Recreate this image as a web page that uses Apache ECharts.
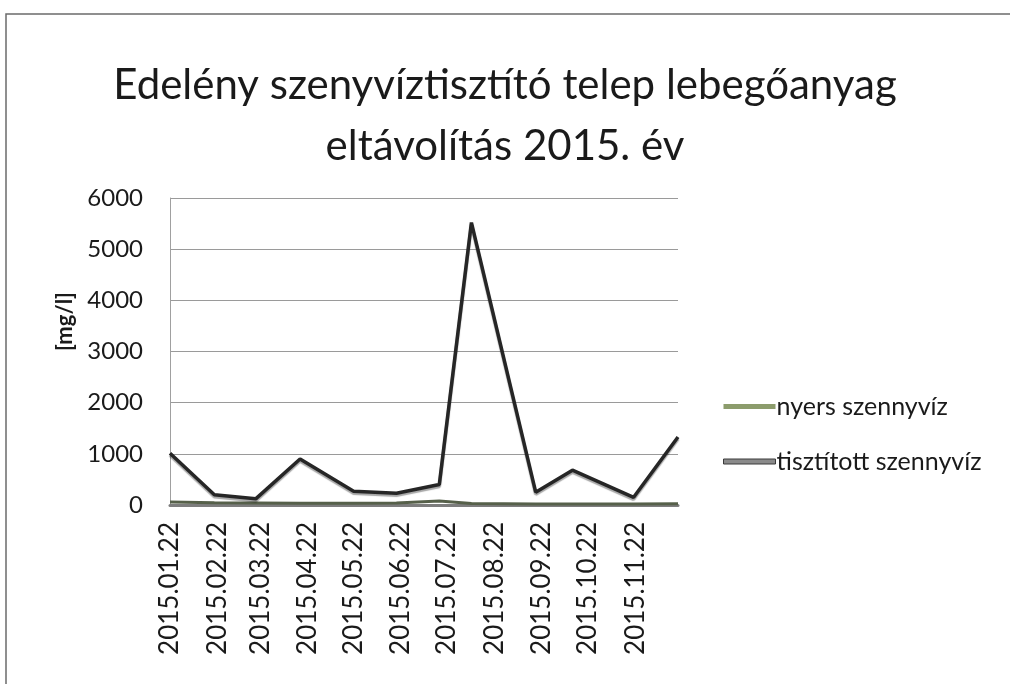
<!DOCTYPE html>
<html>
<head>
<meta charset="utf-8">
<script src="https://cdn.jsdelivr.net/npm/echarts@6/dist/echarts.min.js"></script>
<style>
  html, body { margin: 0; padding: 0; background: #fff; }
  #chart { width: 1010px; height: 684px; }
</style>
</head>
<body>
<div id="chart"></div>
<script>
  // sampling dates
  var sampleDates = ['2015-01-22', '2015-02-20', '2015-03-19', '2015-04-17', '2015-05-22', '2015-06-19',
    '2015-07-17', '2015-08-07', '2015-09-18', '2015-10-12', '2015-11-21', '2015-12-20']
  var nyers = [60, 45, 40, 35, 35, 40, 80, 30, 20, 20, 20, 25]
  var tisztitott = [1010, 200, 120, 900, 270, 230, 400, 5520, 250, 680, 150, 1330]
  var tickLabels = ['2015.01.22', '2015.02.22', '2015.03.22', '2015.04.22', '2015.05.22', '2015.06.22',
    '2015.07.22', '2015.08.22', '2015.09.22', '2015.10.22', '2015.11.22']
  var yTicks = [0, 1000, 2000, 3000, 4000, 5000, 6000]

  function toTime(s) {
    var p = s.split(/[-.]/)
    return new Date(+p[0], +p[1] - 1, +p[2]).getTime()
  }
  function pad(n) { return n < 10 ? '0' + n : '' + n }

  var font = 'Lato, "Open Sans", sans-serif'
  var tickTimes = tickLabels.map(toTime)

  var myChart = echarts.init(document.getElementById('chart'), null, {renderer: 'canvas'})
  myChart.setOption({
    animation: false,
    backgroundColor: '#fff',
    textStyle: {fontFamily: font},
    graphic: [{
      type: 'rect',
      shape: {x: 6, y: 14, width: 1200, height: 900},
      style: {fill: 'none', stroke: '#6b6b6b', lineWidth: 1.5},
      silent: true
    }],
    title: {
      text: 'Edelény szenyvíztisztító telep lebegőanyag\neltávolítás 2015. év',
      left: 'center',
      top: 50,
      padding: [5, 5, 5, 22],
      textStyle: {
        fontFamily: font,
        fontSize: 42,
        fontWeight: 'normal',
        lineHeight: 61,
        color: '#1a1a1a'
      }
    },
    legend: {
      orient: 'vertical',
      left: 718,
      top: 389,
      itemWidth: 52,
      itemHeight: 5,
      itemGap: 30,
      icon: 'rect',
      textStyle: {fontFamily: font, fontSize: 25, color: '#1a1a1a', padding: [0, 0, 0, -4]},
      data: [
        {name: 'nyers szennyvíz', itemStyle: {color: '#8c9c6c'}},
        {name: 'tisztított szennyvíz', itemStyle: {color: '#8a8a8a', borderColor: '#3a3a3a', borderWidth: 1}}
      ]
    },
    grid: {
      left: 170,
      right: 332,
      top: 198,
      bottom: 179
    },
    xAxis: {
      // dates as timestamps on a value axis so the labels can sit on the 22nd of each month
      type: 'value',
      min: toTime(sampleDates[0]),
      max: toTime(sampleDates[sampleDates.length - 1]),
      axisLine: {show: true, lineStyle: {color: '#7d7d7d', width: 3}},
      axisTick: {show: false},
      splitLine: {show: false},
      axisLabel: {
        customValues: tickTimes,
        rotate: 90,
        margin: 17,
        fontFamily: font,
        fontSize: 26,
        color: '#1a1a1a',
        formatter: function (v) {
          var d = new Date(v)
          return d.getFullYear() + '.' + pad(d.getMonth() + 1) + '.' + pad(d.getDate())
        }
      }
    },
    yAxis: {
      type: 'value',
      min: yTicks[0],
      max: yTicks[yTicks.length - 1],
      interval: 1000,
      name: '[mg/l]',
      nameLocation: 'middle',
      nameRotate: 90,
      nameGap: 94,
      nameTextStyle: {fontFamily: font, fontSize: 22, fontWeight: 'bold', color: '#1a1a1a', padding: [0, 0, 0, 60]},
      axisLine: {show: true, lineStyle: {color: '#a0a0a0', width: 1}},
      axisTick: {show: false},
      splitLine: {lineStyle: {color: '#9a9a9a', width: 1}},
      axisLabel: {
        margin: 27,
        fontFamily: font,
        fontSize: 24,
        color: '#1a1a1a',
        formatter: function (v) { return String(v) }
      }
    },
    series: [
      {
        name: 'nyers szennyvíz',
        type: 'line',
        showSymbol: false,
        symbol: 'none',
        lineStyle: {color: '#56604a', width: 3},
        itemStyle: {color: '#8c9c6c'},
        data: sampleDates.map(function (d, i) { return [toTime(d), nyers[i]] })
      },
      {
        name: 'tisztított szennyvíz',
        type: 'line',
        showSymbol: false,
        symbol: 'none',
        lineStyle: {
          color: '#262626',
          width: 3.5,
          shadowColor: 'rgba(0,0,0,0.35)',
          shadowOffsetY: 2,
          shadowBlur: 1
        },
        itemStyle: {color: '#8a8a8a'},
        data: sampleDates.map(function (d, i) { return [toTime(d), tisztitott[i]] })
      }
    ]
  })
</script>
</body>
</html>
